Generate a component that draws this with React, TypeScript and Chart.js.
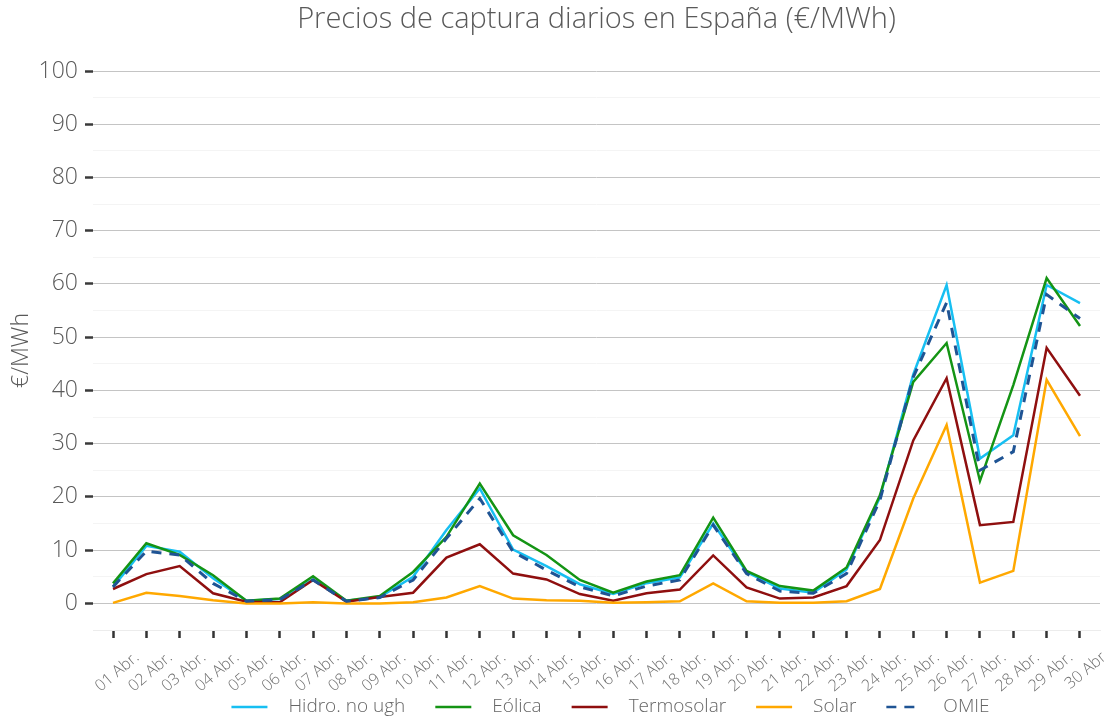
import React, { useEffect, useRef } from 'react';
import { Chart, registerables } from 'chart.js';

Chart.register(...registerables);

const TITLE = 'Precios de captura diarios en España (€/MWh)';
const Y_TITLE = '€/MWh';

const DAYS = [
  '01 Abr.', '02 Abr.', '03 Abr.', '04 Abr.', '05 Abr.', '06 Abr.', '07 Abr.', '08 Abr.', '09 Abr.', '10 Abr.',
  '11 Abr.', '12 Abr.', '13 Abr.', '14 Abr.', '15 Abr.', '16 Abr.', '17 Abr.', '18 Abr.', '19 Abr.', '20 Abr.',
  '21 Abr.', '22 Abr.', '23 Abr.', '24 Abr.', '25 Abr.', '26 Abr.', '27 Abr.', '28 Abr.', '29 Abr.', '30 Abr',
];

const HIDRO = [3.1, 10.8, 9.7, 4.7, 0.5, 0.8, 4.5, 0.5, 1.2, 5.0, 13.8, 21.6, 10.1, 7.0, 3.6, 1.75, 3.8, 4.9, 15.0, 5.9, 2.8, 2.0, 6.4, 19.9, 43.0, 59.8, 27.2, 31.6, 59.8, 56.4];
const EOLICA = [3.75, 11.3, 9.1, 5.3, 0.5, 0.9, 5.1, 0.5, 1.4, 5.9, 12.5, 22.5, 12.8, 9.1, 4.4, 2.0, 4.1, 5.3, 16.1, 6.1, 3.25, 2.4, 6.75, 20.3, 41.6, 48.9, 23.0, 41.0, 61.1, 52.1];
const TERMOSOLAR = [2.7, 5.5, 7.0, 1.9, 0.3, 0.2, 4.4, 0.3, 1.2, 2.0, 8.6, 11.1, 5.6, 4.5, 1.75, 0.5, 1.9, 2.6, 9.0, 3.0, 0.9, 1.1, 3.25, 11.9, 30.6, 42.3, 14.7, 15.3, 48.0, 39.0];
const SOLAR = [0.1, 2.0, 1.4, 0.6, 0.0, 0.0, 0.2, 0.0, 0.0, 0.2, 1.1, 3.25, 0.9, 0.6, 0.5, 0.1, 0.2, 0.4, 3.75, 0.4, 0.1, 0.1, 0.4, 2.7, 19.7, 33.5, 3.9, 6.1, 42.0, 31.4];
const OMIE = [3.1, 9.8, 9.1, 3.75, 0.4, 0.7, 4.4, 0.4, 1.1, 4.4, 12.2, 19.7, 9.7, 6.25, 3.1, 1.4, 3.25, 4.4, 14.7, 5.6, 2.3, 1.9, 5.6, 19.4, 42.5, 56.5, 25.0, 28.5, 58.0, 53.5];

const Y_TICKS = [-5, 0, 5, 10, 15, 20, 25, 30, 35, 40, 45, 50, 55, 60, 65, 70, 75, 80, 85, 90, 95, 100];

const FONT = '"Open Sans", "Noto Sans", sans-serif';
const TEXT = '#595959';

const overlay = {
  id: 'overlay',
  afterDraw(chart: any) {
    const { ctx, chartArea } = chart;
    ctx.save();
    ctx.fillStyle = TEXT;
    ctx.font = `300 29px ${FONT}`;
    ctx.textAlign = 'center';
    ctx.textBaseline = 'alphabetic';
    ctx.fillText(TITLE, (chartArea.left + chartArea.right) / 2, 28);

    ctx.font = `300 19px ${FONT}`;
    ctx.textAlign = 'left';
    const lineW = 36;
    const gapIn = 21;
    const gapOut = 30;
    const items = chart.data.datasets.map((ds: any) => ({
      label: ds.label,
      color: ds.borderColor,
      dash: ds.borderDash || [],
      width: ctx.measureText(ds.label).width,
    }));
    let total = 0;
    items.forEach((it: any, i: number) => {
      total += lineW + gapIn + it.width + (i < items.length - 1 ? gapOut : 0);
    });
    let x = (chartArea.left + chartArea.right) / 2 + 14 - total / 2;
    const y = 707;
    items.forEach((it: any) => {
      ctx.save();
      ctx.strokeStyle = it.color;
      ctx.lineWidth = 2.5;
      ctx.setLineDash(it.dash);
      ctx.beginPath();
      ctx.moveTo(x, y);
      ctx.lineTo(x + lineW, y);
      ctx.stroke();
      ctx.restore();
      x += lineW + gapIn;
      ctx.fillStyle = '#666666';
      ctx.textBaseline = 'middle';
      ctx.fillText(it.label, x, y);
      x += it.width + gapOut;
    });
    ctx.restore();
  },
};

export default function App() {
  const ref = useRef<HTMLCanvasElement>(null);

  useEffect(() => {
    if (!ref.current) return;
    const pts = (arr: number[]) => arr.map((y, i) => ({ x: i, y }));
    const base = { pointRadius: 0, pointHoverRadius: 0, tension: 0, borderWidth: 2.5, fill: false };
    const chart = new Chart(ref.current, {
      type: 'line',
      data: {
        datasets: [
          { ...base, label: 'Hidro. no ugh', data: pts(HIDRO), borderColor: '#17BFF2', backgroundColor: '#17BFF2', order: 5 },
          { ...base, label: 'Eólica', data: pts(EOLICA), borderColor: '#149414', backgroundColor: '#149414', order: 4 },
          { ...base, label: 'Termosolar', data: pts(TERMOSOLAR), borderColor: '#8F0F0F', backgroundColor: '#8F0F0F', order: 3 },
          { ...base, label: 'Solar', data: pts(SOLAR), borderColor: '#FFA800', backgroundColor: '#FFA800', order: 2 },
          { ...base, label: 'OMIE', data: pts(OMIE), borderColor: '#1F5494', backgroundColor: '#1F5494', borderDash: [10, 8], borderWidth: 3, order: 1 },
        ] as any,
      },
      options: {
        animation: false,
        responsive: false,
        maintainAspectRatio: false,
        layout: { padding: { top: 71, right: 4, bottom: 0, left: 0 } },
        plugins: {
          legend: { display: false },
          title: { display: false },
          tooltip: { enabled: false },
        },
        scales: {
          x: {
            type: 'linear',
            min: -0.6,
            max: 29.6,
            afterBuildTicks: (s: any) => {
              s.ticks = DAYS.map((_, i) => ({ value: i }));
            },
            afterFit: (s: any) => {
              s.height = 87;
            },
            ticks: {
              autoSkip: false,
              minRotation: 40,
              maxRotation: 40,
              labelOffset: 24,
              padding: 10,
              color: '#707070',
              font: { family: FONT, size: 16, weight: '300' },
              callback: (v: any) => DAYS[Math.round(v)] ?? '',
            },
            grid: {
              drawOnChartArea: false,
              tickLength: 8,
              tickColor: '#333333',
              tickWidth: 2.5,
            },
            border: { display: true, color: '#ececec', width: 1 },
          },
          y: {
            min: -5,
            max: 100,
            afterBuildTicks: (s: any) => {
              s.ticks = Y_TICKS.map((v) => ({ value: v }));
            },
            afterFit: (s: any) => {
              s.width = 93;
            },
            ticks: {
              autoSkip: false,
              padding: 7,
              color: TEXT,
              font: { family: FONT, size: 23, weight: '300' },
              callback: (v: any) => (v >= 0 && v % 10 === 0 ? String(v) : ''),
            },
            grid: {
              color: (c: any) => (c.tick && c.tick.value >= 0 && c.tick.value % 10 === 0 ? '#c4c4c4' : '#f4f4f4'),
              tickColor: (c: any) => (c.tick && c.tick.value >= 0 && c.tick.value % 10 === 0 ? '#3a3a3a' : 'rgba(0,0,0,0)'),
              tickLength: 8,
              tickWidth: 2.5,
              lineWidth: 1,
            },
            border: { display: false },
            title: {
              display: true,
              text: Y_TITLE,
              color: TEXT,
              font: { family: FONT, size: 23, weight: '300' },
              padding: { top: 8, bottom: 0 },
            },
          },
        },
      } as any,
      plugins: [overlay],
    });
    return () => chart.destroy();
  }, []);

  return (
    <div style={{ position: 'absolute', left: 0, top: 0, width: 1104, height: 717, background: '#ffffff' }}>
      <canvas ref={ref} width={1104} height={717} style={{ width: 1104, height: 717, display: 'block' }} />
    </div>
  );
}
